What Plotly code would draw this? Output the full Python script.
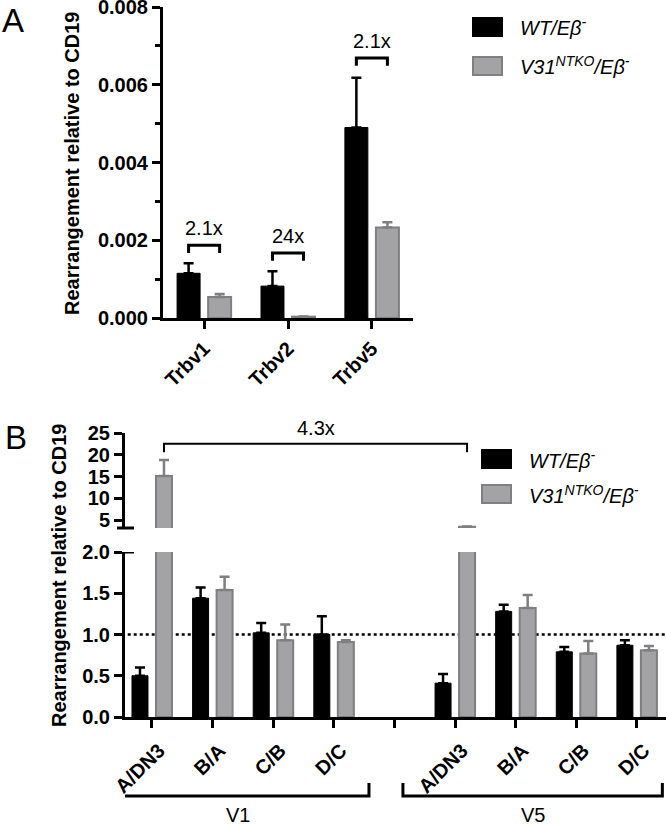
import plotly.graph_objects as go

# ---------------- data ----------------
trbv_genes = ["Trbv1", "Trbv2", "Trbv5"]
a_wt = [0.00115, 0.00082, 0.00490]
a_wt_err = [0.00026, 0.00038, 0.00128]
a_ko = [0.00054, 0.000035, 0.00233]
a_ko_err = [0.00008, 0.000005, 0.00013]
a_fold_labels = ["2.1x", "24x", "2.1x"]
a_bracket_y = [0.00187, 0.00167, 0.00669]

b_stages = ["A/DN3", "B/A", "C/B", "D/C"]
b_groups = ["V1", "V5"]
v1_wt = [0.50, 1.44, 1.02, 1.00]
v1_wt_err = [0.10, 0.13, 0.12, 0.22]
v1_ko = [15.1, 1.54, 0.93, 0.91]
v1_ko_err = [3.7, 0.16, 0.19, 0.02]
v5_wt = [0.41, 1.28, 0.79, 0.87]
v5_wt_err = [0.11, 0.08, 0.06, 0.06]
v5_ko = [3.45, 1.32, 0.77, 0.81]
v5_ko_err = [0.08, 0.16, 0.15, 0.05]
b_fold_label = "4.3x"
b_bracket_y = 22.5
ref_line = 1.0

lower_ticks = [0.0, 0.5, 1.0, 1.5, 2.0]
upper_ticks = [5, 10, 15, 20, 25]
a_ticks = [0.000, 0.002, 0.004, 0.006, 0.008]

# ---------------- style ----------------
W, H = 666, 825
FONT = "Arial, Liberation Sans, Helvetica, sans-serif"
BLACK = "#000000"
GRAY_FILL = "#A3A3A6"
GRAY_LINE = "#7F7F7F"
LW = 3

def px_x(p):
    return p / W

def px_y(p):
    return 1 - p / H

fig = go.Figure()

# x positions for panel B (gap slot between groups)
b_pos = list(range(len(b_stages))) + [len(b_stages) + 1 + i for i in range(len(b_stages))]
b_wt = v1_wt + v5_wt
b_wt_err = v1_wt_err + v5_wt_err
b_ko = v1_ko + v5_ko
b_ko_err = v1_ko_err + v5_ko_err

A_W, A_OFF = 0.274, 0.185
B_W, B_OFF = 0.264, 0.198

def err(vals, color):
    return dict(type="data", array=vals, arrayminus=[0] * len(vals), symmetric=False,
                color=color, thickness=2.5, width=5)

# Panel A
fig.add_trace(go.Bar(x=trbv_genes, y=a_wt, width=A_W, offset=-A_OFF - A_W / 2,
                     marker=dict(color=BLACK, line=dict(color=BLACK, width=1)),
                     error_y=err(a_wt_err, BLACK), xaxis="x", yaxis="y", showlegend=False))
fig.add_trace(go.Bar(x=trbv_genes, y=a_ko, width=A_W, offset=A_OFF - A_W / 2,
                     marker=dict(color=GRAY_FILL, line=dict(color=GRAY_LINE, width=2)),
                     error_y=err(a_ko_err, GRAY_LINE), xaxis="x", yaxis="y", showlegend=False))

# Panel B, lower and upper segments
for ya, xa in (("y2", "x2"), ("y3", "x3")):
    fig.add_trace(go.Bar(x=b_pos, y=b_wt, width=B_W, offset=-B_OFF - B_W / 2,
                         marker=dict(color=BLACK, line=dict(color=BLACK, width=1)),
                         error_y=err(b_wt_err, BLACK), xaxis=xa, yaxis=ya, showlegend=False))
    fig.add_trace(go.Bar(x=b_pos, y=b_ko, width=B_W, offset=B_OFF - B_W / 2,
                         marker=dict(color=GRAY_FILL, line=dict(color=GRAY_LINE, width=2)),
                         error_y=err(b_ko_err, GRAY_LINE), xaxis=xa, yaxis=ya, showlegend=False))

tickfont = dict(family=FONT, size=20, color=BLACK, weight="bold")
common_axis = dict(showline=True, linecolor=BLACK, linewidth=LW, ticks="outside",
                   ticklen=8, tickwidth=LW, tickcolor=BLACK, showgrid=False,
                   zeroline=False, tickfont=tickfont, automargin=False,
                   ticklabeloverflow="allow")
b_xaxis_style = dict(common_axis, ticklabelshift=7, ticklabelstandoff=3)

b_ticktext = b_stages + [""] + b_stages
b_tickvals = list(range(len(b_ticktext)))

fig.update_layout(
    width=W, height=H, margin=dict(l=0, r=0, t=0, b=0, autoexpand=False),
    paper_bgcolor="white", plot_bgcolor="rgba(0,0,0,0)",
    barmode="overlay", showlegend=False,
    font=dict(family=FONT, color=BLACK),
    xaxis=dict(domain=[px_x(163), px_x(413)], anchor="y", range=[-0.49, 2.49],
               tickangle=-45, **common_axis),
    yaxis=dict(domain=[px_y(318), px_y(7)], anchor="x", range=[0, 0.008],
               tickvals=a_ticks, tickformat=".3f",
               minor=dict(ticks="outside", dtick=0.001, ticklen=5, tickwidth=LW, tickcolor=BLACK),
               **common_axis),
    xaxis2=dict(domain=[px_x(125), 1.0], anchor="y2", range=[-0.445, 8.48],
                tickvals=b_tickvals, ticktext=b_ticktext, tickangle=-45, **b_xaxis_style),
    yaxis2=dict(domain=[px_y(717), px_y(552)], anchor="x2", range=[0, 2.0],
                tickvals=lower_ticks, tickformat=".1f", **common_axis),
    xaxis3=dict(domain=[px_x(125), 1.0], anchor="y3", range=[-0.445, 8.48], matches="x2",
                visible=False, automargin=False),
    yaxis3=dict(domain=[px_y(528), px_y(433)], anchor="x3", range=[3.16, 25],
                tickvals=upper_ticks, **common_axis),
)

shapes = []
ann = []

# Panel A fold-change brackets
for i, g in enumerate(trbv_genes):
    yb = a_bracket_y[i]
    drop = 0.0002
    x_l = i - A_OFF
    x_r = i + A_OFF
    shapes.append(dict(type="path", xref="x", yref="y",
                       path=f"M {x_l},{yb - drop} L {x_l},{yb} L {x_r},{yb} L {x_r},{yb - drop}",
                       line=dict(color=BLACK, width=LW)))
    ann.append(dict(x=i, y=yb + 0.0001, xref="x", yref="y", text=a_fold_labels[i],
                    showarrow=False, yanchor="bottom",
                    font=dict(family=FONT, size=20, color=BLACK)))

# Panel B 4.3x bracket
xl = b_pos[0] + B_OFF
xr = b_pos[len(b_stages)] + B_OFF
shapes.append(dict(type="path", xref="x3", yref="y3",
                   path=f"M {xl},{b_bracket_y - 1.9} L {xl},{b_bracket_y} L {xr},{b_bracket_y} L {xr},{b_bracket_y - 1.9}",
                   line=dict(color=BLACK, width=2)))
ann.append(dict(x=(xl + xr) / 2, y=b_bracket_y + 0.6, xref="x3", yref="y3", text=b_fold_label,
                showarrow=False, yanchor="bottom", font=dict(family=FONT, size=20, color=BLACK)))

# dotted reference line at 1.0
shapes.append(dict(type="line", xref="x2 domain", yref="y2", x0=0.005, x1=1.0,
                   y0=ref_line, y1=ref_line, layer="below",
                   line=dict(color=BLACK, width=2.5, dash="dot")))

# axis-break marks
shapes.append(dict(type="line", xref="paper", yref="y2", x0=px_x(117), x1=px_x(134),
                   y0=2.0, y1=2.0, line=dict(color=BLACK, width=LW)))
shapes.append(dict(type="line", xref="paper", yref="y3 domain", x0=px_x(117), x1=px_x(134),
                   y0=0, y1=0, line=dict(color=BLACK, width=LW)))

# group brackets under panel B
grp_spans = [(-0.726, 3.58), (4.14, 8.42)]
for (g0, g1), gname in zip(grp_spans, b_groups):
    yb, yt = px_y(796), px_y(783)
    shapes.append(dict(type="path", xref="x2", yref="paper",
                       path=f"M {g0},{yt} L {g0},{yb} L {g1},{yb} L {g1},{yt}",
                       line=dict(color=BLACK, width=LW)))
    ann.append(dict(x=(g0 + g1) / 2, y=px_y(815), xref="x2", yref="paper", text=gname,
                    showarrow=False, xanchor="center", yanchor="middle",
                    font=dict(family=FONT, size=20, color=BLACK)))

# y titles
title_font = dict(family=FONT, size=20, color=BLACK, weight="bold")
ann.append(dict(x=px_x(72), y=px_y(164), xref="paper", yref="paper",
                text="Rearrangement relative to CD19", textangle=-90, showarrow=False,
                xanchor="center", yanchor="middle", font=title_font))
ann.append(dict(x=px_x(59), y=px_y(576), xref="paper", yref="paper",
                text="Rearrangement relative to CD19", textangle=-90, showarrow=False,
                xanchor="center", yanchor="middle", font=title_font))

# panel letters
ann.append(dict(x=px_x(0), y=px_y(20), xref="paper", yref="paper", text="A", showarrow=False,
                xanchor="left", yanchor="middle", font=dict(family=FONT, size=33, color=BLACK)))
ann.append(dict(x=px_x(3), y=px_y(437), xref="paper", yref="paper", text="B", showarrow=False,
                xanchor="left", yanchor="middle", font=dict(family=FONT, size=33, color=BLACK)))

# manual legends
legend_items = ["<i>WT/Eβ<sup>-</sup></i>", "<i>V31<sup>NTKO</sup>/Eβ<sup>-</sup></i>"]
legend_style = [(BLACK, BLACK), (GRAY_FILL, GRAY_LINE)]
for (lx, ly0, dy) in ((473, 27, 39), (482, 459, 35)):
    for k, (txt, (fc, lc)) in enumerate(zip(legend_items, legend_style)):
        cy = ly0 + k * dy
        shapes.append(dict(type="rect", xref="paper", yref="paper",
                           x0=px_x(lx), x1=px_x(lx + 29), y0=px_y(cy + 9), y1=px_y(cy - 9),
                           fillcolor=fc, line=dict(color=lc, width=2)))
        ann.append(dict(x=px_x(lx + 45), y=px_y(cy), xref="paper", yref="paper", text=txt,
                        showarrow=False, xanchor="left", yanchor="middle",
                        font=dict(family=FONT, size=20, color=BLACK)))

fig.update_layout(shapes=shapes, annotations=ann)
fig.write_html("out.html", config={"displayModeBar": False, "staticPlot": True},
               post_script="document.body.style.margin='0px';document.body.style.overflow='hidden';")
